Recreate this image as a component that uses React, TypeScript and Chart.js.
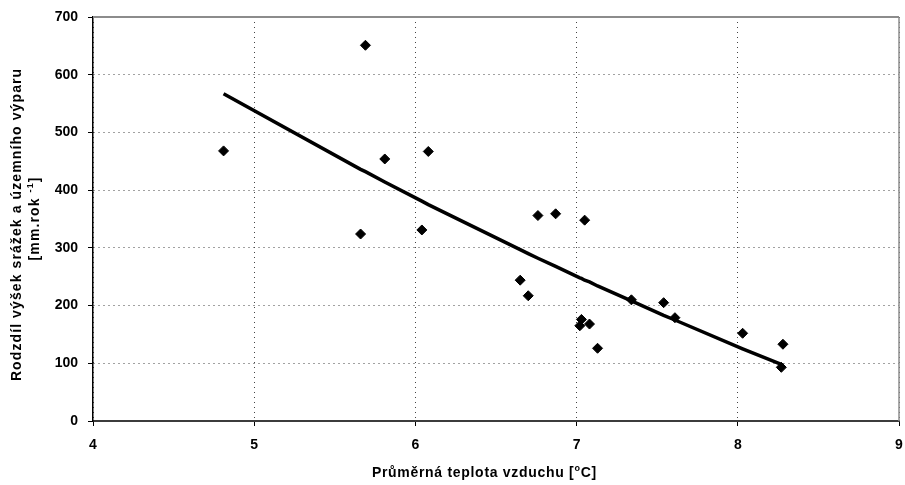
import React, { useEffect, useRef } from "react";
import { Chart, registerables } from "chart.js";

Chart.register(...registerables);

// Average air temperature [°C]
const temperature = [4.81, 5.69, 5.66, 5.81, 6.04, 6.08, 6.65, 6.70, 6.76, 6.87, 7.05, 7.02, 7.03, 7.08, 7.13, 7.34, 7.54, 7.61, 8.03, 8.28, 8.27];
// Difference between precipitation and evaporation [mm/year]
const difference = [468, 651, 324, 454, 331, 467, 244, 217, 356, 359, 348, 165, 176, 168, 126, 210, 205, 179, 152, 133, 93];

// Trend line, read at the sorted temperatures
const trendTemperature = [4.81, 5.66, 5.69, 5.81, 6.04, 6.08, 6.65, 6.70, 6.76, 6.87, 7.02, 7.03, 7.05, 7.08, 7.13, 7.34, 7.54, 7.61, 8.03, 8.27, 8.28];
const trendDifference = [567, 436, 432, 414, 381, 375, 297, 290, 282, 268, 248, 247, 244, 241, 234, 208, 183, 175, 125, 98, 97];

const xMin = 4;
const xMax = 9;
const xStep = 1;
const yMin = 0;
const yMax = 700;
const yStep = 100;

type Seg = { text: string; sup?: boolean };
const yTitleLine1: Seg[] = [{ text: "Rodzdíl výšek srážek a územního výparu" }];
const yTitleLine2: Seg[] = [{ text: "[mm.rok " }, { text: "-1", sup: true }, { text: "]" }];
const xTitle: Seg[] = [{ text: "Průměrná teplota vzduchu [" }, { text: "o", sup: true }, { text: "C]" }];

const FONT = '"Liberation Sans", Arial, sans-serif';

function drawRich(ctx: CanvasRenderingContext2D, segs: Seg[], cx: number, cy: number, spacing: number, size: number) {
  const items: { ch: string; font: string; w: number; dy: number }[] = [];
  let total = 0;
  for (const seg of segs) {
    const s = seg.sup ? Math.round(size * 0.65) : size;
    const font = `bold ${s}px ${FONT}`;
    ctx.font = font;
    for (const ch of Array.from(seg.text)) {
      const w = ctx.measureText(ch).width;
      items.push({ ch, font, w, dy: seg.sup ? -size * 0.33 : 0 });
      total += w + spacing;
    }
  }
  total -= spacing;
  let x = cx - total / 2;
  ctx.textAlign = "left";
  ctx.textBaseline = "middle";
  ctx.fillStyle = "#000";
  for (const it of items) {
    ctx.font = it.font;
    ctx.fillText(it.ch, x, cy + it.dy);
    x += it.w + spacing;
  }
}

const decorPlugin = {
  id: "decor",
  beforeDatasetsDraw(chart: any) {
    const { ctx, chartArea } = chart;
    const { left, right, top, bottom } = chartArea;
    ctx.save();
    ctx.strokeStyle = "#8c8c8c";
    ctx.lineWidth = 2;
    ctx.beginPath();
    ctx.moveTo(left, top);
    ctx.lineTo(right, top);
    ctx.stroke();
    ctx.lineWidth = 1.5;
    ctx.beginPath();
    ctx.moveTo(right, top);
    ctx.lineTo(right, bottom);
    ctx.stroke();
    ctx.restore();
  },
  afterDraw(chart: any) {
    const { ctx, chartArea } = chart;
    const { left, right, top, bottom } = chartArea;
    const cy = (top + bottom) / 2;
    const cx = (left + right) / 2;
    ctx.save();
    ctx.translate(0, cy);
    ctx.rotate(-Math.PI / 2);
    drawRich(ctx, yTitleLine1, -6, 17, 1.1, 14);
    drawRich(ctx, yTitleLine2, 0, 35, 1.1, 14);
    ctx.restore();
    ctx.save();
    drawRich(ctx, xTitle, cx - 12, 473.5, 0.7, 14);
    ctx.restore();
  },
};

export default function App() {
  const canvasRef = useRef<HTMLCanvasElement | null>(null);

  useEffect(() => {
    if (!canvasRef.current) return;
    const points = temperature.map((t, i) => ({ x: t, y: difference[i] }));
    const trend = trendTemperature.map((t, i) => ({ x: t, y: trendDifference[i] }));
    const chart = new Chart(canvasRef.current, {
      type: "scatter",
      data: {
        datasets: [
          {
            label: "trend",
            data: trend,
            showLine: true,
            borderColor: "#000",
            borderWidth: 3.5,
            pointRadius: 0,
            pointHoverRadius: 0,
            tension: 0,
            order: 2,
          },
          {
            label: "data",
            data: points,
            pointStyle: "rectRot",
            pointRadius: 5,
            pointHoverRadius: 5,
            backgroundColor: "#000",
            borderColor: "#000",
            borderWidth: 1,
            order: 1,
          },
        ],
      },
      options: {
        responsive: false,
        animation: false,
        events: [],
        layout: { padding: { top: 17, right: 5, left: 0, bottom: 0 } },
        plugins: {
          legend: { display: false },
          tooltip: { enabled: false },
          title: { display: false },
        },
        scales: {
          x: {
            type: "linear",
            min: xMin,
            max: xMax,
            ticks: {
              stepSize: xStep,
              color: "#000",
              padding: 11,
              font: { family: FONT, size: 14, weight: "bold" },
            },
            grid: {
              color: "#444",
              lineWidth: 1,
              tickColor: "#000",
              tickLength: 5,
              tickWidth: 1,
            },
            border: { color: "#3c3c3c", width: 2, dash: [1, 4] },
            afterFit: (s: any) => {
              s.height = 64;
              s.paddingLeft = 0;
              s.paddingRight = 0;
            },
          },
          y: {
            type: "linear",
            min: yMin,
            max: yMax,
            ticks: {
              stepSize: yStep,
              color: "#000",
              padding: 10,
              font: { family: FONT, size: 14, weight: "bold" },
            },
            grid: {
              color: "#444",
              lineWidth: 1,
              tickColor: "#000",
              tickLength: 5,
              tickWidth: 1,
            },
            border: { color: "#000", width: 1.5, dash: [1, 4] },
            afterFit: (s: any) => {
              s.width = 93;
              s.paddingTop = 0;
              s.paddingBottom = 0;
            },
          },
        },
      },
      plugins: [decorPlugin],
    } as any);
    return () => chart.destroy();
  }, []);

  return (
    <div style={{ position: "fixed", left: 0, top: 0, width: 905, height: 485, background: "#fff" }}>
      <canvas ref={canvasRef} width={905} height={485} style={{ width: 905, height: 485, display: "block" }} />
    </div>
  );
}
